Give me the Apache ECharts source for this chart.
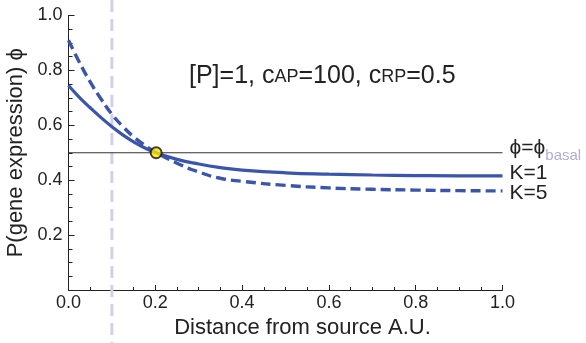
<!DOCTYPE html>
<html>
<head>
<meta charset="utf-8">
<script src="https://cdn.jsdelivr.net/npm/echarts@6/dist/echarts.min.js"></script>
<style>html,body{margin:0;padding:0;background:#fff}#c{width:586px;height:343px}</style>
</head>
<body>
<div id="c"></div>
<script>
// Data
const distance = [0, 0.025, 0.05, 0.075, 0.1, 0.125, 0.15, 0.175, 0.2, 0.25, 0.3, 0.35, 0.4, 0.5, 0.6, 0.7, 0.8, 0.9, 1.0];
const phiK1 = [0.745, 0.702, 0.664, 0.628, 0.595, 0.565, 0.540, 0.518, 0.501, 0.476, 0.459, 0.446, 0.437, 0.427, 0.422, 0.419, 0.417, 0.416, 0.416];
const phiK5 = [0.910, 0.830, 0.758, 0.696, 0.640, 0.596, 0.558, 0.528, 0.503, 0.462, 0.430, 0.407, 0.396, 0.381, 0.372, 0.367, 0.364, 0.362, 0.361];
const phiBasal = 0.5;
const basalRange = [0, 1.0];
const crossing = [0.202, 0.5];
const sourceX = 0.1;
const xTicks = ['0.0', '0.2', '0.4', '0.6', '0.8', '1.0'];
const yTicks = ['', '0.2', '0.4', '0.6', '0.8', '1.0'];

const FONT = '"Liberation Sans", Arial, Helvetica, sans-serif';
const BLUE = '#3a55a9';
const chart = echarts.init(document.getElementById('c'), null, {renderer: 'canvas'});

const zip = (xs, ys) => xs.map((x, i) => [x, ys[i]]);

chart.setOption({
  animation: false,
  backgroundColor: '#fff',
  textStyle: {fontFamily: FONT},
  title: {
    left: 184, top: 59,
    text: '{m|[P]=1, c}{s|AP}{m|=100, c}{s|RP}{m|=0.5}',
    textStyle: {
      fontFamily: FONT, fontSize: 25, fontWeight: 'normal', color: '#222',
      rich: {
        m: {fontFamily: FONT, fontSize: 25, color: '#222', verticalAlign: 'bottom'},
        s: {fontFamily: FONT, fontSize: 18, color: '#222', verticalAlign: 'bottom', padding: [0, 0, 3, 0]}
      }
    }
  },
  grid: {left: 68.5, right: 83.5, top: 15.5, bottom: 53, outerBoundsMode: 'none', containLabel: false},
  xAxis: {
    type: 'value', min: 0, max: 1, interval: 0.2,
    name: 'Distance from source A.U.', nameLocation: 'middle', nameGap: 18,
    nameTextStyle: {fontFamily: FONT, fontSize: 22, color: '#222', padding: [0, 0, 0, 34]},
    axisLine: {show: true, lineStyle: {color: '#222', width: 1}},
    axisTick: {show: true, inside: true, length: 5, lineStyle: {color: '#222'}},
    minorTick: {show: true, splitNumber: 4, length: 3, lineStyle: {color: '#222'}},
    splitLine: {show: false},
    axisLabel: {margin: 4, fontFamily: FONT, fontSize: 18, color: '#222',
      formatter: (v) => xTicks[Math.round(v / 0.2)]}
  },
  yAxis: {
    type: 'value', min: 0, max: 1, interval: 0.2,
    name: 'P(gene expression) ϕ', nameLocation: 'middle', nameGap: 40, nameRotate: 90,
    nameTextStyle: {fontFamily: FONT, fontSize: 22, color: '#222'},
    axisLine: {show: true, lineStyle: {color: '#222', width: 1}},
    axisTick: {show: true, inside: true, length: 6, lineStyle: {color: '#222'}},
    minorTick: {show: true, splitNumber: 4, length: 4, lineStyle: {color: '#222'}},
    splitLine: {show: false},
    axisLabel: {margin: 6, fontFamily: FONT, fontSize: 18, color: '#222',
      formatter: (v) => yTicks[Math.round(v / 0.2)]}
  },
  series: [
    {
      type: 'custom', data: [[sourceX]], clip: false, silent: true, z: 1,
      renderItem: (params, api) => {
        const p = api.coord([api.value(0), 0]);
        return {type: 'line', shape: {x1: p[0], y1: 0, x2: p[0], y2: api.getHeight()},
          style: {stroke: '#d3cfea', lineWidth: 3, lineDash: [12, 7]}};
      }
    },
    {
      type: 'line', data: basalRange.map(x => [x, phiBasal]), symbol: 'none', z: 2,
      lineStyle: {color: '#333', width: 1},
      endLabel: {
        show: true, distance: 7, offset: [0, 3],
        formatter: () => '{m|ϕ=ϕ}{b|basal}',
        rich: {
          m: {fontFamily: FONT, fontSize: 21, color: '#222', lineHeight: 22, verticalAlign: 'top'},
          b: {fontFamily: FONT, fontSize: 15, color: '#b3acd6', lineHeight: 36}
        }
      }
    },
    {
      name: 'K=1', type: 'line', data: zip(distance, phiK1), smooth: true, symbol: 'none', z: 3,
      lineStyle: {color: BLUE, width: 3.2},
      endLabel: {show: true, distance: 7, offset: [0, -3], formatter: 'K=1',
        fontFamily: FONT, fontSize: 21, color: '#222'}
    },
    {
      name: 'K=5', type: 'line', data: zip(distance, phiK5), smooth: true, symbol: 'none', z: 3,
      lineStyle: {color: BLUE, width: 3.4, type: [10, 5]},
      endLabel: {show: true, distance: 7, offset: [0, 2], formatter: 'K=5',
        fontFamily: FONT, fontSize: 21, color: '#222'}
    },
    {
      type: 'scatter', data: [crossing], symbol: 'circle', symbolSize: 11, z: 5,
      itemStyle: {color: '#ffe600', borderColor: '#111', borderWidth: 2}
    }
  ]
});
</script>
</body>
</html>
